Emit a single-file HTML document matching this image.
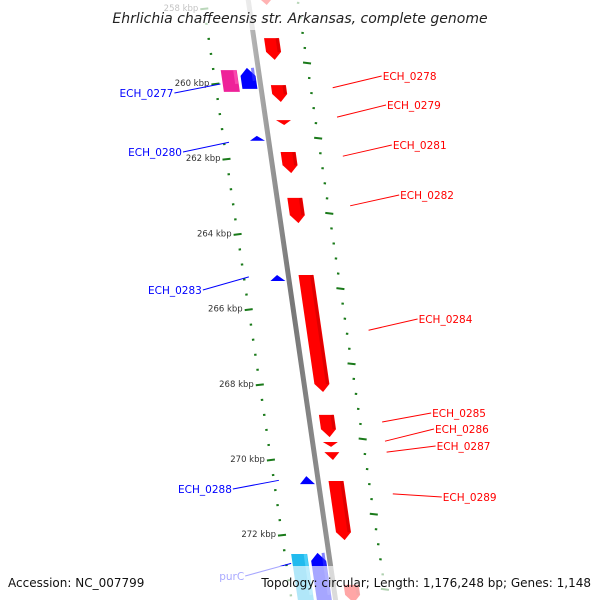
<!DOCTYPE html>
<html><head><meta charset="utf-8"><style>
html,body{margin:0;padding:0;background:#fff}
svg{display:block;font-family:"DejaVu Sans","Liberation Sans",sans-serif}
</style></head><body>
<svg id="map" width="600" height="600" viewBox="0 0 600 600" xmlns="http://www.w3.org/2000/svg">
<defs>
<linearGradient id="bb" x1="0" x2="1" y1="0" y2="0"><stop offset="0" stop-color="#bbb"/><stop offset="0.5" stop-color="#777"/><stop offset="1" stop-color="#999"/></linearGradient>
</defs>
<g id="ticks"></g>
<line x1="247.5" y1="-5" x2="336.3" y2="605" stroke="url(#bb)" stroke-width="5"/>
<g id="genes"></g>
<g id="labels"></g>
<rect x="0" y="0" width="600" height="30" fill="#fff" opacity="0.7"/>
<rect x="0" y="566" width="600" height="34" fill="#fff" opacity="0.65"/>
<text x="300" y="23" text-anchor="middle" font-size="14" font-style="italic" fill="#222">Ehrlichia chaffeensis str. Arkansas, complete genome</text>
<text x="8" y="587" font-size="12" fill="#111">Accession: NC_007799</text>
<text x="591" y="587" font-size="12" text-anchor="end" fill="#111">Topology: circular; Length: 1,176,248 bp; Genes: 1,148</text>
</svg>
<script>
const geneNames = ["g_top","ECH_0276b","ECH_0278","ECH_0279","ECH_0281","ECH_0282","ECH_0284","ECH_0285","ECH_0286","ECH_0287","ECH_0289","g_bot1","ECH_0277","ECH_0277p","ECH_0280","ECH_0283","ECH_0288","purC","purCc"];
const geneStart = [257.70,258.78,260.03,260.96,261.81,263.03,265.08,268.80,269.52,269.79,270.56,273.32,259.57,259.63,261.38,265.08,270.43,272.47,272.50];
const geneEnd   = [257.90,259.36,260.48,261.09,262.37,263.70,268.19,269.39,269.65,270.00,272.13,273.80,260.13,260.21,261.51,265.24,270.64,273.80,273.80];
const geneStrand= [1,1,1,1,1,1,1,1,1,1,1,1,-1,-1,-1,-1,-1,-1,-1];
const geneTrack = [0,0,0,0,0,0,0,0,0,0,0,0,0,1,0,0,0,0,1];
const labelNames = ["ECH_0278","ECH_0279","ECH_0281","ECH_0282","ECH_0284","ECH_0285","ECH_0286","ECH_0287","ECH_0289","ECH_0277","ECH_0280","ECH_0283","ECH_0288","purC"];
const labelKbp   = [260.10,260.88,261.92,263.24,266.55,268.99,269.50,269.79,270.90,260.00,261.55,265.13,270.54,272.75];
const labelTextY = [76,105,145,195,319,413,429,446,497,93,152,290,489,576];
const labelSide  = [1,1,1,1,1,1,1,1,1,-1,-1,-1,-1,-1];
const majorTicks = [258,260,262,264,266,268,270,272];
const majorTickLabels = ["258 kbp","260 kbp","262 kbp","264 kbp","266 kbp","268 kbp","270 kbp","272 kbp"];

const NS="http://www.w3.org/2000/svg";
function yOf(k){return 84+(k-260)*37.6;}
function bx(y){return 247.5+0.1456*y;}
function mk(tag,attrs,parent){const e=document.createElementNS(NS,tag);for(const k in attrs)e.setAttribute(k,attrs[k]);parent.appendChild(e);return e;}
const T=document.getElementById('ticks'),G=document.getElementById('genes'),L=document.getElementById('labels');
// ticks
for(let k=257.6;k<=274.01;k+=0.4){
  const kk=Math.round(k*10)/10, major=Math.abs(kk/2-Math.round(kk/2))<0.01;
  const yl=yOf(kk), xl=203+0.1476*yl;
  const yr=yl-21, xr=297.7+0.148*yr;
  const w=major?4:1.2;
  let t=mk('line',{x1:xl-w,y1:yl+w*0.12,x2:xl+w,y2:yl-w*0.12,stroke:'#1a7a1a','stroke-width':2},T);
  
  
  t=mk('line',{x1:xr-w,y1:yr-w*0.12,x2:xr+w,y2:yr+w*0.12,stroke:'#1a7a1a','stroke-width':2},T);
  
  
}
majorTicks.forEach((k,i)=>{
  const y=yOf(k),x=203+0.1476*y;
  const t=mk('text',{x:x-6,y:y+2,'font-size':8.5,'text-anchor':'end',fill:'#333'},T);
  t.textContent=majorTickLabels[i];
  
  
});
// genes
geneNames.forEach((n,i)=>{
  const y1=yOf(geneStart[i]),y2=yOf(geneEnd[i]),s=geneStrand[i];
  let o1,o2;
  if(s>0){o1=11;o2=26;}else if(geneTrack[i]==0){o1=-18;o2=-3;}else{o1=-37;o2=-21;}
  const len=y2-y1, ah=Math.min(8,len);
  const col=s>0?'#f00':(geneTrack[i]==1?(geneStrand[i]<0&&n=='purCc'?'#22bbee':'#ee2299'):'#00f');
  const dark=s>0?'#c00':(geneTrack[i]==1?(n=='purCc'?'#66ddff':'#ff66bb'):'#33f');
  let pts;
  const X=(y,o)=>bx(y)+o;
  if(s>0){
    const yb=y2-ah, ym=(o1+o2)/2;
    pts=[[X(y1,o1),y1],[X(y1,o2),y1],[X(yb,o2),yb],[X(y2,ym),y2],[X(yb,o1),yb]];
  }else{
    const yt=y1+ah, ym=(o1+o2)/2;
    pts=[[X(y1,ym),y1],[X(yt,o2),yt],[X(y2,o2),y2],[X(y2,o1),y2],[X(yt,o1),yt]];
  }
  if(geneTrack[i]==1){pts=[[X(y1,o1),y1],[X(y1,o2),y1],[X(y2,o2),y2],[X(y2,o1),y2]];}
  const p=mk('polygon',{points:pts.map(q=>q.join(',')).join(' '),fill:col},G);
  
  
  const sh=mk('line',{x1:X(y1,o2-2),y1:y1,x2:X(y2-ah,o2-2),y2:y2-ah,stroke:dark,'stroke-width':3,opacity:0.6},G);
  
  
});
// labels
labelNames.forEach((n,i)=>{
  const gy=yOf(labelKbp[i]), ty=labelTextY[i], s=labelSide[i];
  const col=s>0?'#f00':'#00f';
  let gx,tx;
  if(s>0){gx=297.7+0.148*gy+22; tx=gx+49;}else{gx=203+0.1476*gy+5; tx=gx-46;}
  const ln=mk('line',{x1:gx,y1:gy,x2:tx,y2:ty+(s>0?1:-1)*0,stroke:col,'stroke-width':1},L);
  
  
  const t=mk('text',{x:s>0?tx+1:tx-1,y:ty+4,'font-size':10.5,'text-anchor':s>0?'start':'end',fill:col},L);
  t.textContent=n;
  
  
});
</script>
</body></html>
